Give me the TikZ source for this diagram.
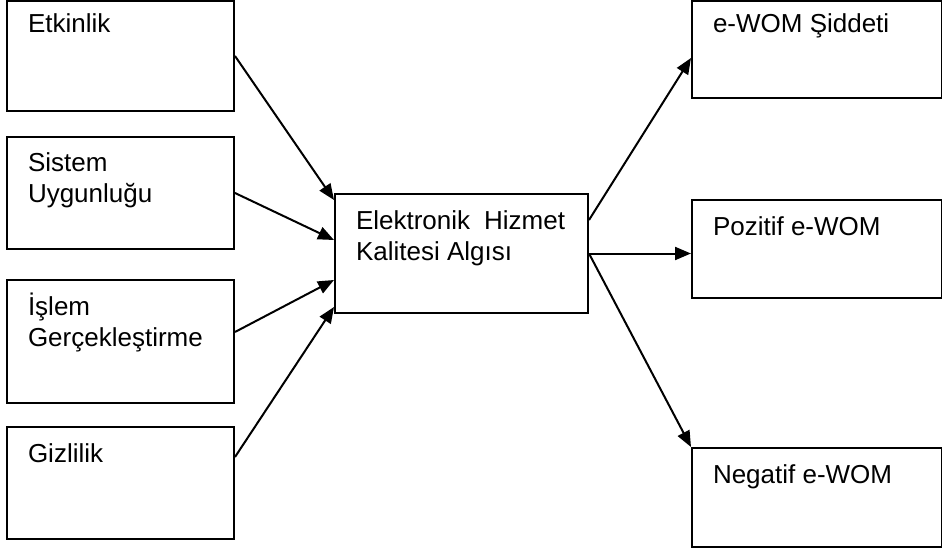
\documentclass[tikz,border=0pt]{standalone}
\usepackage{fontspec}
\setmainfont{Liberation Sans}
\usetikzlibrary{arrows.meta}

\begin{document}
\begin{tikzpicture}[x=1pt, y=-1pt, line width=2pt,
                    >={Triangle[length=16pt, width=13pt]},
                    box/.style={draw, anchor=north west, inner sep=0pt},
                    box text/.style={anchor=base west, inner sep=0pt, xshift=21pt, yshift=-36pt,
                                     align=left, font=\fontsize{26}{31}\selectfont},
                    two lines/.style={yshift=-31pt}]
  \useasboundingbox (0, 0) rectangle (942, 548);

  \node[box, minimum width=227pt, minimum height=110pt, label={[box text, yshift=3pt]north west:Etkinlik}] (1) at (6, 0) {};
  \node[box, minimum width=227pt, minimum height=112pt, label={[box text, two lines]north west:Sistem\\Uygunluğu}] (2) at (6, 136) {};
  \node[box, minimum width=227pt, minimum height=123pt, label={[box text, two lines]north west:İşlem\\Gerçekleştirme}] (3) at (6, 279) {};
  \node[box, minimum width=227pt, minimum height=112pt, label={[box text]north west:Gizlilik}] (4) at (6, 426) {};
  \node[box, minimum width=253pt, minimum height=119pt, label={[box text, two lines]north west:Elektronik\hspace{14pt}Hizmet\\Kalitesi Algısı}] (c) at (334, 193) {};
  \node[box, minimum width=250pt, minimum height=97pt, label={[box text, yshift=3pt]north west:e-WOM Şiddeti}] (5) at (691, 0) {};
  \node[box, minimum width=250pt, minimum height=98pt, label={[box text]north west:Pozitif e-WOM}] (6) at (691, 199) {};
  \node[box, minimum width=250pt, minimum height=99pt, label={[box text]north west:Negatif e-WOM}] (7) at (691, 447) {};

  \path[->]
  (1.east) edge ([yshift=-7pt]c.north west)
  (2.east) edge ([yshift=-47pt]c.north west)
  ([yshift=-53pt]3.north east) edge ([yshift=-87pt]c.north west)
  ([yshift=-31pt]4.north east) edge ([yshift=-114pt]c.north west)
  ([yshift=-27pt]c.north east) edge ([yshift=-58pt]5.north west)
  (c.east) edge (c.east -| 6.west)
  (c.east) edge (7.north west);

\end{tikzpicture}
\end{document}
